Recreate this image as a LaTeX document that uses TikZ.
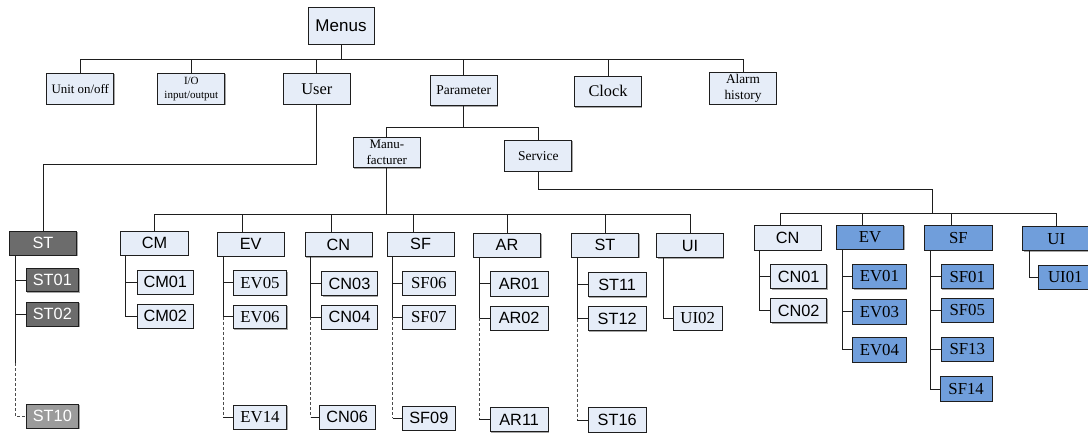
\documentclass[tikz,border=0pt]{standalone}
\usepackage{fontspec}
\setmainfont{Liberation Serif}
\setsansfont{Liberation Sans}
\usetikzlibrary{shadows}
\definecolor{lightfill}{RGB}{230,237,248}
\definecolor{bluefill}{RGB}{112,158,219}
\definecolor{darkfill}{RGB}{108,108,108}
\definecolor{greyfill}{RGB}{155,155,155}
\definecolor{linec}{RGB}{30,30,30}
\newcommand\Bx[7]{%
  \pgfmathsetmacro\bw{#5-#3}\pgfmathsetmacro\bh{#6-#4}%
  \pgfmathsetmacro\bcx{(#3+#5)/2}\pgfmathsetmacro\bcy{-(#4+#6)/2}%
  \node[#1,minimum width=\bw pt,minimum height=\bh pt] (#2) at (\bcx,\bcy) {#7};}
\tikzset{
  box/.style={draw=linec, line width=0.9pt, inner sep=0pt, outer sep=0pt, align=center,
    drop shadow={shadow xshift=0.8pt, shadow yshift=-0.8pt, fill=black!35, opacity=1}},
  lt/.style={box, fill=lightfill},
  bl/.style={box, fill=bluefill},
  dg/.style={box, fill=darkfill, text=white},
  lg/.style={box, fill=greyfill, text=white},
  sa/.style={font=\sffamily\fontsize{16.3}{19}\selectfont},
  se/.style={font=\rmfamily\fontsize{16.8}{19}\selectfont},
  conn/.style={draw=linec, line width=0.8pt},
  dconn/.style={draw=black!70, line width=0.8pt, dash pattern=on 3pt off 2pt},
}
\begin{document}
\begin{tikzpicture}[x=1pt,y=1pt]
\useasboundingbox (0,0) rectangle (1088,-434);
% top level
\Bx{lt,font=\sffamily\fontsize{17}{20}\selectfont}{menus}{308}{7.3}{374}{44}{Menus}
\Bx{lt,font=\rmfamily\fontsize{12.9}{15}\selectfont}{unit}{46.8}{73.3}{113.8}{104.3}{Unit on/off}
\Bx{lt,font=\rmfamily\fontsize{11}{14}\selectfont}{io}{157.9}{73.3}{224.8}{104.3}{I/O\\input/output}
\Bx{lt,font=\rmfamily\fontsize{16.4}{19}\selectfont}{user}{283.5}{73.3}{350.1}{104.3}{User}
\Bx{lt,font=\rmfamily\fontsize{13.5}{16}\selectfont}{param}{430.3}{75}{497.2}{105.7}{Parameter}
\Bx{lt,font=\rmfamily\fontsize{16.3}{19}\selectfont}{clock}{574.5}{76}{641.5}{106.7}{Clock}
\Bx{lt,font=\rmfamily\fontsize{13.3}{15.5}\selectfont}{alarm}{709.5}{72.7}{776.5}{104}{Alarm\\history}
\Bx{lt,font=\rmfamily\fontsize{13}{15.5}\selectfont}{manu}{353.2}{137}{420.5}{167.7}{Manu-\\facturer}
\Bx{lt,font=\rmfamily\fontsize{13.5}{16}\selectfont}{serv}{504.9}{140.3}{571.8}{171.3}{Service}
% user branch
\Bx{dg,sa}{stg}{9.3}{231}{76.7}{255}{ST}
\Bx{dg,sa}{st01}{26}{268.3}{78.7}{291.7}{ST01}
\Bx{dg,sa}{st02}{26}{302.3}{78.7}{326}{ST02}
\Bx{lg,sa}{st10}{26}{404.3}{78.7}{428.3}{ST10}
% manufacturer branch
\Bx{lt,sa}{cm}{120.7}{231}{188.3}{255}{CM}
\Bx{lt,sa}{cm01}{137.3}{270}{193.3}{294}{CM01}
\Bx{lt,sa}{cm02}{137.3}{304}{193.3}{328}{CM02}
\Bx{lt,sa}{ev}{217}{232}{284.3}{256}{EV}
\Bx{lt,se}{ev05}{233.3}{270.7}{286.7}{295}{EV05}
\Bx{lt,se}{ev06}{233.3}{305}{286.7}{328.7}{EV06}
\Bx{lt,se}{ev14}{233.3}{405}{286.7}{429.3}{EV14}
\Bx{lt,sa}{cn}{305}{232.3}{372}{256.7}{CN}
\Bx{lt,sa}{cn03}{321.7}{271.7}{377.3}{295.7}{CN03}
\Bx{lt,sa}{cn04}{321.7}{305}{377.3}{329}{CN04}
\Bx{lt,sa}{cn06}{319.3}{405}{375}{429}{CN06}
\Bx{lt,sa}{sf}{387.3}{232.3}{454}{256}{SF}
\Bx{lt,se}{sf06}{402.7}{271.7}{455}{295}{SF06}
\Bx{lt,se}{sf07}{402.7}{305.3}{455}{329.3}{SF07}
\Bx{lt,sa}{sf09}{402.7}{406}{455}{430}{SF09}
\Bx{lt,sa}{ar}{473.3}{233.3}{540.7}{257.3}{AR}
\Bx{lt,sa}{ar01}{490}{271.7}{548.3}{296}{AR01}
\Bx{lt,sa}{ar02}{490}{306}{548.3}{330}{AR02}
\Bx{lt,sa}{ar11}{490}{407.3}{548.3}{431.7}{AR11}
\Bx{lt,sa}{stm}{571.3}{233.3}{638.7}{257.3}{ST}
\Bx{lt,sa}{st11}{588.3}{272.3}{646}{296.7}{ST11}
\Bx{lt,sa}{st12}{588.3}{306.7}{646}{330.7}{ST12}
\Bx{lt,sa}{st16}{588.3}{407.7}{646}{432.3}{ST16}
\Bx{lt,sa}{ui}{656.7}{233.3}{723.3}{257.7}{UI}
\Bx{lt,se}{ui02}{673.3}{306}{722}{330.3}{UI02}
% service branch
\Bx{lt,sa}{scn}{754}{225.7}{821.3}{250}{CN}
\Bx{lt,sa}{scn01}{770.7}{264.3}{826.7}{288.7}{CN01}
\Bx{lt,sa}{scn02}{770.7}{298.3}{826.7}{322.7}{CN02}
\Bx{bl,se}{sev}{836.3}{225}{903.7}{249.3}{EV}
\Bx{bl,se}{sev01}{852.7}{264.3}{906}{288.7}{EV01}
\Bx{bl,se}{sev03}{852.7}{299.3}{906}{324.3}{EV03}
\Bx{bl,se}{sev04}{852.7}{337.3}{906}{362}{EV04}
\Bx{bl,se}{ssf}{924.7}{225.3}{992}{250}{SF}
\Bx{bl,se}{ssf01}{941.3}{264.3}{993.3}{288.7}{SF01}
\Bx{bl,se}{ssf05}{941.3}{298.3}{993.3}{322.3}{SF05}
\Bx{bl,se}{ssf13}{941.3}{337}{993.3}{361.3}{SF13}
\Bx{bl,se}{ssf14}{940}{376.7}{992.3}{401.3}{SF14}
\Bx{bl,se}{sui}{1022.7}{226.7}{1090}{250.7}{UI}
\Bx{bl,se}{sui01}{1038.7}{265.3}{1092}{289.3}{UI01}
% bus coordinates
\coordinate (tb) at (0,-59.3);
\coordinate (ub) at (0,-164.7);
\coordinate (pb) at (0,-127.7);
\coordinate (mb) at (0,-214);
\coordinate (sj1) at (932.7,-189.3);
\coordinate (sj2) at (932.7,-213.3);
\coordinate (stbreak) at (15.3,-363);
% top bus
\draw[conn] (unit.north) |- (alarm.north|-tb) -- (alarm.north);
\draw[conn] (menus.south) -- (menus.south|-tb);
\draw[conn] (io.north) -- (io.north|-tb);
\draw[conn] (user.north) -- (user.north|-tb);
\draw[conn] (param.north) -- (param.north|-tb);
\draw[conn] (clock.north) -- (clock.north|-tb);
% user to ST
\draw[conn] (user.south) |- (stg.north|-ub) -- (stg.north);
% parameter
\draw[conn] (param.south) -- (param.south|-pb);
\draw[conn] (manu.north) |- (serv.north|-pb) -- (serv.north);
% manufacturer bus
\draw[conn] (manu.south) -- (manu.south|-mb);
\draw[conn] (cm.north) |- (ui.north|-mb) -- (ui.north);
\draw[conn] ([xshift=-8pt]ev.north) -- ([xshift=-8pt]ev.north|-mb);
\draw[conn] ([xshift=-7.5pt]cn.north) -- ([xshift=-7.5pt]cn.north|-mb);
\draw[conn] ([xshift=-7.3pt]sf.north) -- ([xshift=-7.3pt]sf.north|-mb);
\draw[conn] (ar.north) -- (ar.north|-mb);
\draw[conn] (stm.north) -- (stm.north|-mb);
% service bus
\draw[conn] (serv.south) |- (sj1) -- (sj2);
\draw[conn] ([xshift=-7.3pt]scn.north) |- (sui.north|-sj2) -- (sui.north);
\draw[conn] ([xshift=-7.3pt]sev.north) -- ([xshift=-7.3pt]sev.north|-sj2);
\draw[conn] ([xshift=-7pt]ssf.north) -- ([xshift=-7pt]ssf.north|-sj2);
% ST (user) children
\draw[conn] ([xshift=6pt]stg.south west) |- (st01.west);
\draw[conn] ([xshift=6pt]stg.south west) |- (st02.west);
\draw[conn] ([xshift=6pt]stg.south west) -- (stbreak);
\draw[dconn] (stbreak) |- (st10.west);
% CM
\draw[conn] ([xshift=4.6pt]cm.south west) |- (cm01.west);
\draw[conn] ([xshift=4.6pt]cm.south west) |- (cm02.west);
% EV
\draw[conn] ([xshift=6.3pt]ev.south west) |- (ev05.west);
\draw[conn] ([xshift=6.3pt]ev.south west) |- (ev06.west);
\draw[dconn] ([xshift=6.3pt]ev.south west|-ev06.west) -- ([xshift=6.3pt]ev.south west|-ev14.west);
\draw[conn] ([xshift=6.3pt]ev.south west|-ev14.west) -- (ev14.west);
% CN
\draw[conn] ([xshift=5.7pt]cn.south west) |- (cn03.west);
\draw[conn] ([xshift=5.7pt]cn.south west) |- (cn04.west);
\draw[dconn] ([xshift=5.7pt]cn.south west|-cn04.west) -- ([xshift=5.7pt]cn.south west|-cn06.west);
\draw[conn] ([xshift=5.7pt]cn.south west|-cn06.west) -- (cn06.west);
% SF
\draw[conn] ([xshift=5.4pt]sf.south west) |- (sf06.west);
\draw[conn] ([xshift=5.4pt]sf.south west) |- (sf07.west);
\draw[dconn] ([xshift=5.4pt]sf.south west|-sf07.west) -- ([xshift=5.4pt]sf.south west|-sf09.west);
\draw[conn] ([xshift=5.4pt]sf.south west|-sf09.west) -- (sf09.west);
% AR
\draw[conn] ([xshift=5.7pt]ar.south west) |- (ar01.west);
\draw[conn] ([xshift=5.7pt]ar.south west) |- (ar02.west);
\draw[dconn] ([xshift=5.7pt]ar.south west|-ar02.west) -- ([xshift=5.7pt]ar.south west|-ar11.west);
\draw[conn] ([xshift=5.7pt]ar.south west|-ar11.west) -- (ar11.west);
% ST (manufacturer)
\draw[conn] ([xshift=6pt]stm.south west) |- (st11.west);
\draw[conn] ([xshift=6pt]stm.south west) |- (st12.west);
\draw[dconn] ([xshift=6pt]stm.south west|-st12.west) -- ([xshift=6pt]stm.south west|-st16.west);
\draw[conn] ([xshift=6pt]stm.south west|-st16.west) -- (st16.west);
% UI
\draw[conn] ([xshift=6.6pt]ui.south west) |- (ui02.west);
% service children
\draw[conn] ([xshift=5.3pt]scn.south west) |- (scn01.west);
\draw[conn] ([xshift=5.3pt]scn.south west) |- (scn02.west);
\draw[conn] ([xshift=6.4pt]sev.south west) |- (sev01.west);
\draw[conn] ([xshift=6.4pt]sev.south west) |- (sev03.west);
\draw[conn] ([xshift=6.4pt]sev.south west) |- (sev04.west);
\draw[conn] ([xshift=6pt]ssf.south west) |- (ssf01.west);
\draw[conn] ([xshift=6pt]ssf.south west) |- (ssf05.west);
\draw[conn] ([xshift=6pt]ssf.south west) |- (ssf13.west);
\draw[conn] ([xshift=6pt]ssf.south west) |- (ssf14.west);
\draw[conn] ([xshift=6.6pt]sui.south west) |- (sui01.west);
\end{tikzpicture}
\end{document}
